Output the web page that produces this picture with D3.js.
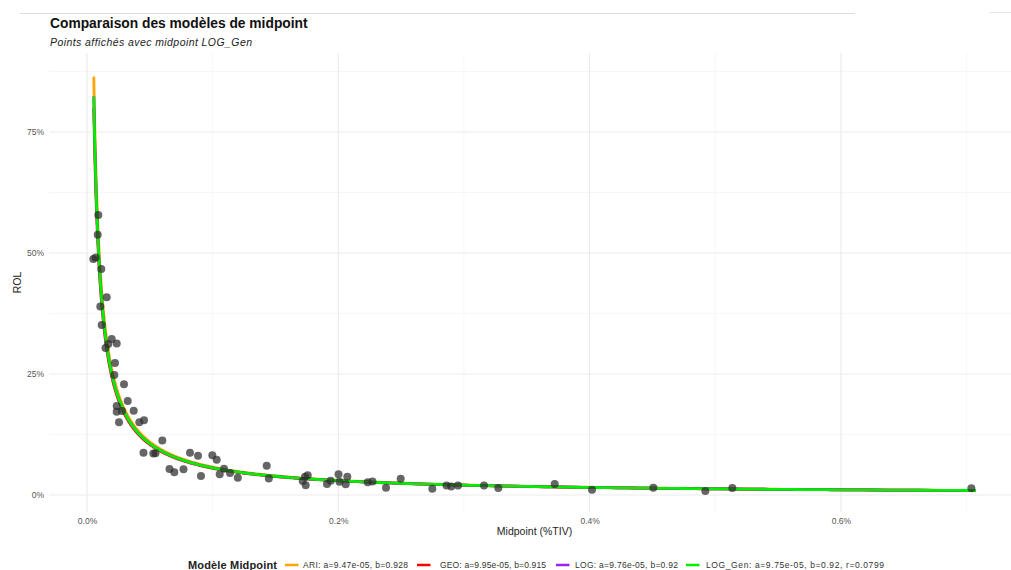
<!DOCTYPE html>
<html>
<head>
<meta charset="utf-8">
<script src="https://cdn.jsdelivr.net/npm/d3@7"></script>
<style>
  html, body { margin: 0; padding: 0; background: #fff; overflow: hidden; }
  svg { display: block; font-family: "Liberation Sans", Arial, sans-serif; }
</style>
</head>
<body>
<svg id="chart" width="1011" height="570"></svg>
<script>
// Observed layers: midpoint (LOG_Gen, % of TIV) and rate on line (%)
const midpointPct = [
  0.00501, 0.00692, 0.00899, 0.00852, 0.01138, 0.01568, 0.01058, 0.0117,
  0.01966, 0.02364, 0.01695, 0.01472, 0.02228, 0.02173, 0.02945, 0.03239,
  0.02364, 0.02364, 0.02786, 0.03717, 0.02547, 0.04162, 0.04536, 0.05993,
  0.04497, 0.05277, 0.05452, 0.08197, 0.08834, 0.09972, 0.10322, 0.06566,
  0.06948, 0.0768, 0.09073, 0.10903, 0.10561, 0.11381, 0.12002, 0.14302,
  0.14469, 0.1735, 0.17565, 0.17167, 0.17406, 0.191, 0.19395, 0.20016,
  0.20095, 0.20716, 0.20589, 0.2234, 0.22722, 0.23796, 0.24966, 0.27481,
  0.28611, 0.28985, 0.29526, 0.31596, 0.32734, 0.37222, 0.40191, 0.4507,
  0.49208, 0.51357, 0.70378
];
const rolPct = [
  48.76, 49.07, 57.85, 53.78, 46.69, 40.85, 38.95, 35.12,
  32.23, 31.30, 31.20, 30.37, 27.27, 24.79, 22.87, 19.42,
  18.39, 17.21, 17.36, 17.42, 15.02, 15.02, 15.43, 11.26,
  8.72, 8.57, 8.62, 8.72, 8.12, 8.20, 7.29, 5.37,
  4.69, 5.31, 3.93, 5.43, 4.28, 4.55, 3.55, 6.05,
  3.41, 3.78, 4.07, 2.89, 2.02, 2.27, 2.95, 4.30,
  2.73, 3.78, 2.21, 2.64, 2.79, 1.49, 3.37, 1.30,
  1.96, 1.76, 1.94, 1.96, 1.45, 2.27, 1.10, 1.51,
  0.83, 1.45, 1.38
];

// Fitted power curves ROL = a * midpoint^(-b), one per midpoint definition
const modelNames  = ["ARI", "GEO", "LOG", "LOG_Gen"];
const modelA      = [9.47e-05, 9.95e-05, 9.76e-05, 9.75e-05];
const modelB      = [0.928, 0.915, 0.92, 0.92];
const modelLabels = [
  "ARI: a=9.47e-05, b=0.928",
  "GEO: a=9.95e-05, b=0.915",
  "LOG: a=9.76e-05, b=0.92",
  "LOG_Gen: a=9.75e-05, b=0.92, r=0.0799"
];
const modelColors = ["#FFA500", "#FF0000", "#A020F0", "#00EE00"];
const curveRangePct = [0.0054, 0.7075];

const xTickValues = [0, 0.2, 0.4, 0.6];
const xTickLabels = ["0.0%", "0.2%", "0.4%", "0.6%"];
const xMinorValues = [0.1, 0.3, 0.5, 0.7];
const yTickValues = [0, 25, 50, 75];
const yTickLabels = ["0%", "25%", "50%", "75%"];
const yMinorValues = [12.5, 37.5, 62.5, 87.5];

const svg = d3.select("#chart");
const panel = { left: 49, right: 1020, top: 53, bottom: 512 };

const x = d3.scaleLinear().domain([-0.03024, 0.7425]).range([panel.left, panel.right]);
const y = d3.scaleLinear().domain([-3.51, 91.32]).range([panel.bottom, panel.top]);

// page rule above the title
svg.append("line").attr("x1", 20).attr("x2", 855).attr("y1", 13.5).attr("y2", 13.5)
  .attr("stroke", "#dcdcdc").attr("stroke-width", 1);
svg.append("line").attr("x1", 990).attr("x2", 1011).attr("y1", 12.5).attr("y2", 12.5)
  .attr("stroke", "#e6e6e6").attr("stroke-width", 1);

// grid
const grid = svg.append("g");
grid.selectAll(".xminor").data(xMinorValues).join("line")
  .attr("x1", d => x(d)).attr("x2", d => x(d))
  .attr("y1", panel.top).attr("y2", panel.bottom)
  .attr("stroke", "#f2f2f2").attr("stroke-width", 0.6);
grid.selectAll(".yminor").data(yMinorValues).join("line")
  .attr("x1", panel.left).attr("x2", panel.right)
  .attr("y1", d => y(d)).attr("y2", d => y(d))
  .attr("stroke", "#f2f2f2").attr("stroke-width", 0.6);
grid.selectAll(".xmajor").data(xTickValues).join("line")
  .attr("x1", d => x(d)).attr("x2", d => x(d))
  .attr("y1", panel.top).attr("y2", panel.bottom)
  .attr("stroke", "#ebebeb").attr("stroke-width", 1.1);
grid.selectAll(".ymajor").data(yTickValues).join("line")
  .attr("x1", panel.left).attr("x2", panel.right)
  .attr("y1", d => y(d)).attr("y2", d => y(d))
  .attr("stroke", "#ebebeb").attr("stroke-width", 1.1);

// axes (labels only, theme without axis lines)
const xAxis = d3.axisBottom(x).tickValues(xTickValues)
  .tickFormat((d, i) => xTickLabels[i]).tickSize(0).tickPadding(6);
const gx = svg.append("g").attr("transform", `translate(0,${panel.bottom})`).call(xAxis);
const yAxis = d3.axisLeft(y).tickValues(yTickValues)
  .tickFormat((d, i) => yTickLabels[i]).tickSize(0).tickPadding(5);
const gy = svg.append("g").attr("transform", `translate(${panel.left},0)`).call(yAxis);
[gx, gy].forEach(g => {
  g.select(".domain").remove();
  g.selectAll("text").attr("fill", "#555").style("font-size", "8.5px")
    .style("font-family", "'Liberation Sans', Arial, sans-serif");
});

// fitted curves
svg.append("clipPath").attr("id", "panelClip").append("rect")
  .attr("x", panel.left).attr("y", panel.top)
  .attr("width", panel.right - panel.left).attr("height", panel.bottom - panel.top);

const nSamples = 500;
const lr0 = Math.log(curveRangePct[0]), lr1 = Math.log(curveRangePct[1]);
const xs = d3.range(nSamples).map(i => Math.exp(lr0 + (lr1 - lr0) * i / (nSamples - 1)));
const line = d3.line().x(d => x(d[0])).y(d => y(d[1]));
const curves = svg.append("g").attr("clip-path", "url(#panelClip)");
modelNames.forEach((name, k) => {
  const pts = xs.map(v => [v, 100 * modelA[k] * Math.pow(v / 100, -modelB[k])]);
  curves.append("path").datum(pts)
    .attr("d", line).attr("fill", "none")
    .attr("stroke", modelColors[k]).attr("stroke-width", 2.8)
    .attr("stroke-linejoin", "round").attr("stroke-linecap", "butt");
});

// observed points
svg.append("g").selectAll("circle").data(midpointPct).join("circle")
  .attr("cx", d => x(d)).attr("cy", (d, i) => y(rolPct[i]))
  .attr("r", 4).attr("fill", "#2b2b2b").attr("fill-opacity", 0.72);

// titles
svg.append("text").attr("x", 50).attr("y", 28)
  .style("font-size", "13.8px").style("font-weight", "bold").attr("fill", "#111")
  .text("Comparaison des modèles de midpoint");
svg.append("text").attr("x", 50).attr("y", 46)
  .style("font-size", "10.5px").style("font-style", "italic").attr("fill", "#222")
  .attr("textLength", 202).attr("lengthAdjust", "spacing")
  .text("Points affichés avec midpoint LOG_Gen");

svg.append("text").attr("x", (panel.left + panel.right) / 2).attr("y", 535)
  .attr("text-anchor", "middle").style("font-size", "10.5px").attr("fill", "#222")
  .text("Midpoint (%TIV)");
svg.append("text")
  .attr("transform", `translate(21,${(panel.top + panel.bottom) / 2}) rotate(-90)`)
  .attr("text-anchor", "middle").style("font-size", "10.5px").attr("fill", "#222")
  .text("ROL");

// legend: title, then one key + label per model
const legY = 565;
const legTitleX = 188, legTitleW = 89;
const legKeyX = [285, 417, 556, 686];
const legLabelX = [303, 440, 575, 706];
const legLabelW = [105, 106, 103, 178];
const legend = svg.append("g");
legend.append("text").attr("x", legTitleX).attr("y", legY + 4)
  .style("font-size", "11px").style("font-weight", "bold").attr("fill", "#222")
  .attr("textLength", legTitleW).attr("lengthAdjust", "spacing")
  .text("Modèle Midpoint");
modelNames.forEach((name, k) => {
  legend.append("line").attr("x1", legKeyX[k]).attr("x2", legKeyX[k] + 13.5)
    .attr("y1", legY).attr("y2", legY)
    .attr("stroke", modelColors[k]).attr("stroke-width", 2.5);
  legend.append("text").attr("x", legLabelX[k]).attr("y", legY + 3)
    .style("font-size", "8.5px").attr("fill", "#333")
    .attr("textLength", legLabelW[k]).attr("lengthAdjust", "spacing")
    .text(modelLabels[k]);
});
</script>
</body>
</html>
